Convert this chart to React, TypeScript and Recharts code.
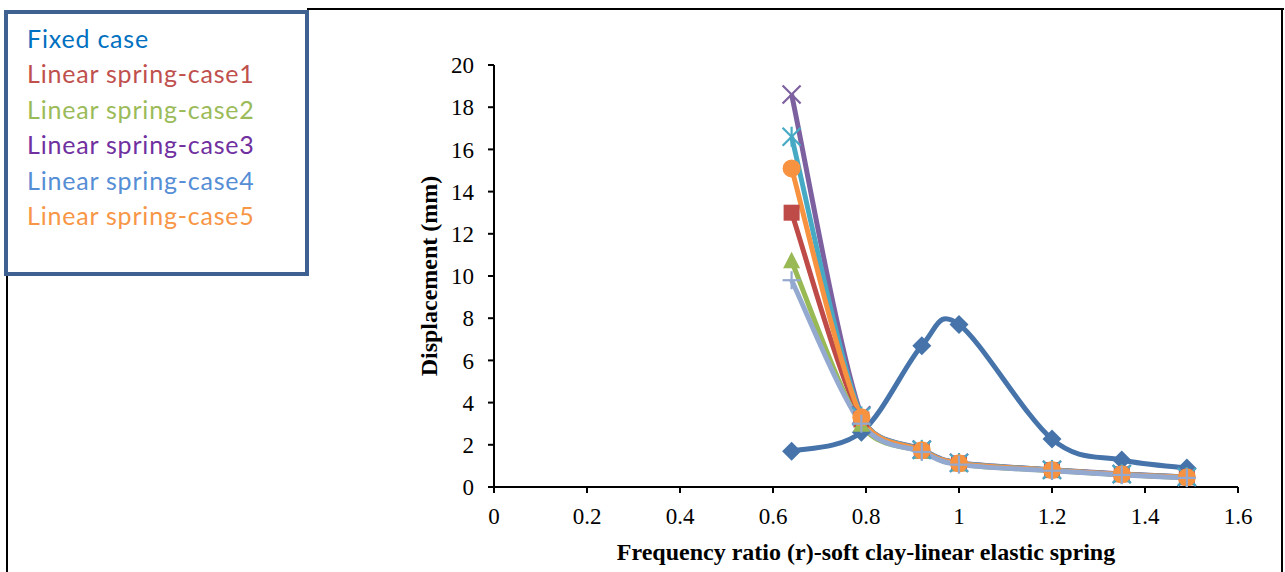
import React from 'react';
import { LineChart, Line, XAxis, YAxis, Label } from 'recharts';

const ratios = [0.64, 0.79, 0.92, 1.0, 1.2, 1.35, 1.49];
const fixedCase = [1.7, 2.6, 6.7, 7.7, 2.27, 1.28, 0.9];
const springCase1 = [13.0, 3.2, 1.72, 1.12, 0.8, 0.6, 0.46];
const springCase2 = [10.7, 2.95, 1.68, 1.08, 0.78, 0.58, 0.44];
const springCase3 = [18.6, 3.4, 1.78, 1.15, 0.82, 0.62, 0.47];
const springTeal = [16.6, 3.35, 1.76, 1.14, 0.81, 0.61, 0.47];
const springCase5 = [15.1, 3.3, 1.74, 1.12, 0.8, 0.6, 0.46];
const springCase4 = [9.8, 3.0, 1.66, 1.06, 0.77, 0.57, 0.43];
const xTicks = [0, 0.2, 0.4, 0.6, 0.8, 1, 1.2, 1.4, 1.6];
const yTicks = [0, 2, 4, 6, 8, 10, 12, 14, 16, 18, 20];
const legendLabels = ['Fixed case', 'Linear spring-case1', 'Linear spring-case2', 'Linear spring-case3', 'Linear spring-case4', 'Linear spring-case5'];
const legendColors = ['#0070C0', '#C0504D', '#9BBB59', '#7030A0', '#558ED5', '#F79646'];

const rows = ratios.map((r, i) => ({
  r,
  fixed: fixedCase[i],
  c1: springCase1[i],
  c2: springCase2[i],
  c3: springCase3[i],
  ct: springTeal[i],
  c5: springCase5[i],
  c4: springCase4[i],
}));

// Excel-like smoothing (Catmull-Rom Bezier); optional clamping of each handle so it stays within the segment's y range
const makeSmooth = (clamp: boolean) => (context: any) => {
  let xs: number[] = [];
  let ys: number[] = [];
  return {
    areaStart() {},
    areaEnd() {},
    lineStart() { xs = []; ys = []; },
    point(x: number, y: number) { xs.push(+x); ys.push(+y); },
    lineEnd() {
      const n = xs.length;
      if (!n) return;
      context.moveTo(xs[0], ys[0]);
      for (let i = 0; i < n - 1; i++) {
        const i0 = Math.max(i - 1, 0);
        const i3 = Math.min(i + 2, n - 1);
        let t1x = (xs[i + 1] - xs[i0]) / 6;
        let t1y = (ys[i + 1] - ys[i0]) / 6;
        let t2x = (xs[i3] - xs[i]) / 6;
        let t2y = (ys[i3] - ys[i]) / 6;
        if (clamp) {
          const seg = Math.abs(ys[i + 1] - ys[i]) * 0.9;
          if (Math.abs(t1y) > seg && t1y !== 0) { const s = seg / Math.abs(t1y); t1x *= s; t1y *= s; }
          if (Math.abs(t2y) > seg && t2y !== 0) { const s = seg / Math.abs(t2y); t2x *= s; t2y *= s; }
        }
        context.bezierCurveTo(xs[i] + t1x, ys[i] + t1y, xs[i + 1] - t2x, ys[i + 1] - t2y, xs[i + 1], ys[i + 1]);
      }
    },
  };
};
const smoothFree = makeSmooth(false);
const smoothClamped = makeSmooth(true);

const mk = (shape: string, color: string) => (props: any) => {
  const { cx, cy, index } = props;
  const k = `${shape}-${index}`;
  if (cx == null || cy == null) return <g key={k} />;
  switch (shape) {
    case 'diamond':
      return <polygon key={k} points={`${cx},${cy - 9.5} ${cx + 9.5},${cy} ${cx},${cy + 9.5} ${cx - 9.5},${cy}`} fill={color} />;
    case 'square':
      return <rect key={k} x={cx - 8} y={cy - 8} width={16} height={16} fill={color} />;
    case 'triangle':
      return <polygon key={k} points={`${cx},${cy - 9.5} ${cx + 8.5},${cy + 7} ${cx - 8.5},${cy + 7}`} fill={color} />;
    case 'circle':
      return <circle key={k} cx={cx} cy={cy} r={9} fill={color} />;
    case 'x':
      return (
        <g key={k} stroke={color} strokeWidth={2.2}>
          <line x1={cx - 9} y1={cy - 9} x2={cx + 9} y2={cy + 9} />
          <line x1={cx - 9} y1={cy + 9} x2={cx + 9} y2={cy - 9} />
        </g>
      );
    case 'star':
      return (
        <g key={k} stroke={color} strokeWidth={2.2}>
          <line x1={cx - 9} y1={cy - 9} x2={cx + 9} y2={cy + 9} />
          <line x1={cx - 9} y1={cy + 9} x2={cx + 9} y2={cy - 9} />
          <line x1={cx} y1={cy - 10} x2={cx} y2={cy + 10} />
        </g>
      );
    case 'plus':
    default:
      return (
        <g key={k} stroke={color} strokeWidth={2.2}>
          <line x1={cx - 9} y1={cy} x2={cx + 9} y2={cy} />
          <line x1={cx} y1={cy - 9} x2={cx} y2={cy + 9} />
        </g>
      );
  }
};

const series = [
  { key: 'fixed', color: '#4674AA', shape: 'diamond', curve: smoothFree },
  { key: 'c1', color: '#BE4B48', shape: 'square', curve: smoothClamped },
  { key: 'c2', color: '#98B954', shape: 'triangle', curve: smoothClamped },
  { key: 'c3', color: '#7D60A0', shape: 'x', curve: smoothClamped },
  { key: 'ct', color: '#46AAC5', shape: 'star', curve: smoothClamped },
  { key: 'c5', color: '#F69240', shape: 'circle', curve: smoothClamped },
  { key: 'c4', color: '#93A9CF', shape: 'plus', curve: smoothClamped },
];

const serif = '"Liberation Serif", "Times New Roman", serif';

export default function App() {
  return (
    <div style={{ position: 'absolute', left: 0, top: 0, width: 1285, height: 572, background: '#fff', overflow: 'hidden' }}>
      <LineChart width={1285} height={572} data={rows} margin={{ top: 65, right: 47, bottom: 0, left: 434 }}>
        <XAxis
          dataKey="r"
          type="number"
          domain={[0, 1.6]}
          ticks={xTicks}
          tickSize={6}
          tickMargin={15}
          stroke="#000"
          strokeWidth={2}
          height={85}
          tick={{ fill: '#000', fontFamily: serif, fontSize: 23 }}
          tickLine={{ stroke: '#000', strokeWidth: 2 }}
        >
          <Label value="Frequency ratio (r)-soft clay-linear elastic spring" position="insideBottom" offset={12}
            style={{ fontFamily: serif, fontSize: 24, fontWeight: 'bold', fill: '#000' }} />
        </XAxis>
        <YAxis
          type="number"
          domain={[0, 20]}
          ticks={yTicks}
          tickSize={6}
          tickMargin={14}
          width={60}
          stroke="#000"
          strokeWidth={2}
          tick={{ fill: '#000', fontFamily: serif, fontSize: 23 }}
          tickLine={{ stroke: '#000', strokeWidth: 2 }}
        >
          <Label value="Displacement (mm)" angle={-90} position="insideLeft" offset={-6}
            style={{ fontFamily: serif, fontSize: 24, fontWeight: 'bold', fill: '#000', textAnchor: 'middle' }} />
        </YAxis>
        {series.map((s) => (
          <Line
            key={s.key}
            dataKey={s.key}
            type={s.curve as any}
            stroke={s.color}
            strokeWidth={5}
            dot={mk(s.shape, s.color)}
            activeDot={false}
            isAnimationActive={false}
          />
        ))}
      </LineChart>
      <div style={{ position: 'absolute', left: 307, top: 8, width: 977, height: 2, background: '#000' }} />
      <div style={{ position: 'absolute', left: 1281, top: 8, width: 2, height: 564, background: '#000' }} />
      <div style={{ position: 'absolute', left: 6, top: 272, width: 2, height: 300, background: '#000' }} />
      <div style={{ position: 'absolute', left: 4, top: 10, width: 297, height: 258, border: '4px solid #3E6191', background: '#fff' }}>
        {legendLabels.map((t, i) => (
          <div key={t} style={{ position: 'absolute', left: 19, top: 9 + i * 35.4, fontFamily: 'Lato, sans-serif', fontSize: 25, letterSpacing: 0.8, lineHeight: '30px', color: legendColors[i], whiteSpace: 'nowrap' }}>{t}</div>
        ))}
      </div>
    </div>
  );
}
